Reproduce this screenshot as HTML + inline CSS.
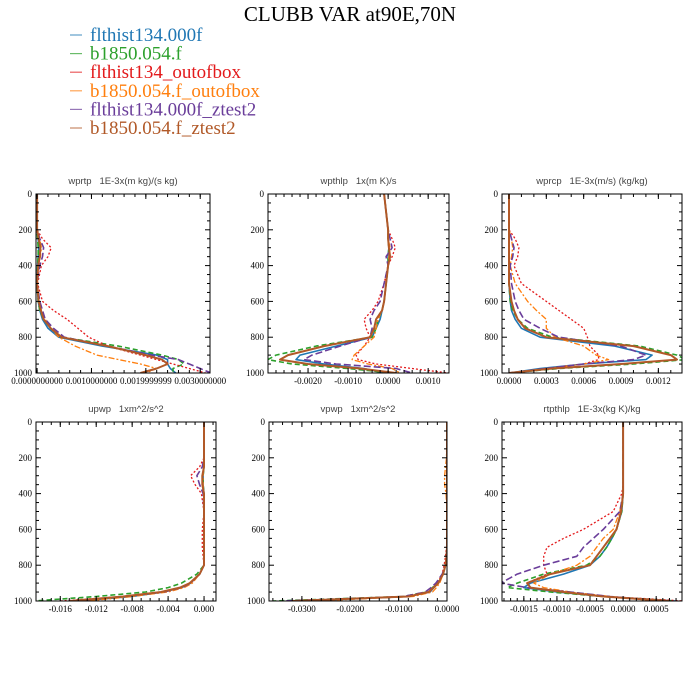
<!DOCTYPE html>
<html><head><meta charset="utf-8"><style>
body{margin:0;background:#fff;width:700px;height:700px;overflow:hidden}
svg{display:block}
.tl{font-family:"Liberation Serif",serif;font-size:9px;fill:#000}
.pt{font-family:"Liberation Sans",sans-serif;font-size:9.5px;fill:#444;white-space:pre}
.lg{font-family:"Liberation Serif",serif;font-size:19px}
</style></head><body>
<svg id="c" width="700" height="700">
<text x="350" y="21" text-anchor="middle" font-family="Liberation Serif,serif" font-size="21">CLUBB VAR at90E,70N</text>
</svg>
<script>
const levels=[0,200,250,300,350,400,500,600,650,700,750,800,850,900,925,950,975,1000];
const seriesNames=["flthist134.000f","b1850.054.f","flthist134_outofbox","b1850.054.f_outofbox","flthist134.000f_ztest2","b1850.054.f_ztest2"];
const seriesColors=["#1f77b4","#2ca02c","#e31a1c","#ff7f0e","#6a3d9a","#b15928"];
const seriesDash=["","5,3","2,2","6,2,2,2","7,3",""];
const seriesWidth=[1.6,1.6,1.3,1.3,1.6,2.0];
// values in units of 1e-3
const wprtp=[
[0,0,0.02,0.03,0.02,0.01,0,0.02,0.05,0.1,0.2,0.4,1.2,2.2,2.4,2.4,2.45,2.55],
[0,0,0.01,0.02,0.02,0.01,0,0.02,0.05,0.12,0.25,0.45,1.5,2.3,2.6,2.7,2.5,2.5],
[0,0,0.1,0.26,0.2,0.08,0.01,0.1,0.3,0.55,0.75,0.95,1.3,1.9,2.2,2.5,2.8,3.1],
[0,0,0.05,0.08,0.06,0.02,0,0.04,0.08,0.15,0.25,0.4,0.7,1.1,1.5,1.9,2.2,2.0],
[0,0,0.05,0.12,0.1,0.05,0,0.05,0.1,0.15,0.3,0.5,1.3,2.1,2.6,2.8,3.0,3.2],
[0,0,0.03,0.06,0.05,0.02,0,0.03,0.07,0.12,0.25,0.45,1.3,2.0,2.3,2.4,2.2,1.9]];
const wpthlp=[
[-0.1,0,0,0.02,0,0,-0.05,-0.1,-0.15,-0.2,-0.3,-0.4,-1.3,-2.2,-2.3,-1.6,-0.6,-0.1],
[-0.1,0,0,0.02,0,0,-0.05,-0.1,-0.15,-0.25,-0.3,-0.4,-1.8,-2.8,-3.0,-2.4,-1.0,0.1],
[-0.1,0,0.1,0.18,0.1,0,-0.1,-0.25,-0.4,-0.6,-0.55,-0.45,-0.6,-0.8,-0.75,-0.3,0.6,1.5],
[-0.1,0,0,0.05,0.02,0,-0.05,-0.1,-0.15,-0.25,-0.3,-0.35,-0.6,-0.85,-0.9,-0.5,0.1,0.3],
[-0.1,0,0.05,0.1,-0.05,0,-0.1,-0.2,-0.35,-0.45,-0.4,-0.45,-1.2,-1.9,-2.1,-1.3,0.2,0.6],
[-0.1,0,0,0.02,0.05,0,-0.05,-0.1,-0.15,-0.3,-0.35,-0.45,-1.6,-2.5,-2.7,-2.0,-0.7,0.2]];
const wprcp=[
[0,0,0,0,0,0,0,0.01,0.02,0.05,0.1,0.25,0.85,1.15,1.1,0.6,0.25,0],
[0,0,0,0,0,0,0,0.01,0.03,0.07,0.15,0.35,1.05,1.35,1.42,1.0,0.4,0],
[0,0,0.05,0.08,0.07,0.04,0.1,0.3,0.4,0.5,0.6,0.63,0.65,0.72,0.72,0.6,0.3,0],
[0,0,0.02,0.03,0.02,0.01,0.05,0.15,0.22,0.3,0.3,0.37,0.6,0.7,0.8,0.6,0.3,0],
[0,0,0.02,0.04,0.03,0.01,0.02,0.05,0.08,0.12,0.25,0.4,0.9,1.1,1.0,0.6,0.3,0],
[0,0,0,0,0,0,0,0.02,0.04,0.07,0.13,0.3,1.0,1.3,1.35,0.9,0.35,0]];
const upwp=[
[0,0,0,-0.1,-0.1,0,0,0,0,0,0,0,-0.5,-1.5,-2.5,-4.5,-8,-14],
[0,0,0,-0.1,-0.1,0,0,0,0,0,0,0,-0.8,-2.5,-4,-6.5,-12,-19],
[0,0,-0.5,-1.5,-1.0,-0.3,0,-0.2,-0.2,-0.2,-0.1,0,-0.5,-1.5,-2.5,-4.5,-9,-16],
[0,0,0,-0.1,-0.1,0,0,0,0,0,0,0,-0.5,-1.3,-2.2,-4,-8,-13],
[0,0,-0.2,-0.8,-0.5,-0.1,0,0,0,0,0,0,-0.5,-1.5,-2.5,-4.5,-9,-15],
[0,0,0,-0.2,-0.2,0,0,0,0,0,0,0,-0.5,-1.6,-2.7,-4.8,-9,-15]];
const vpwp=[
[0,0,0,0,0,0,0,0,0,0,-0.1,-0.3,-0.8,-1.8,-2.7,-3.5,-8,-30],
[0,0,0,0,0,0,0,0,0,0,-0.1,-0.3,-0.8,-2.0,-3.0,-4.2,-9,-36],
[0,0,0,0,0,0,0,0,0,-0.1,-0.3,-0.6,-1.0,-2.0,-2.8,-3.6,-8,-32],
[0,-0.1,-0.3,-0.5,-0.5,-0.2,0,0,0,0,-0.1,-0.3,-0.8,-1.5,-2.2,-3.0,-7,-28],
[0,0,0,0,0,0,0,0,0,0,-0.1,-0.3,-1.0,-2.3,-3.3,-4.5,-9,-34],
[0,0,0,0,0,0,0,0,0,0,-0.1,-0.3,-0.8,-1.8,-2.8,-3.8,-8,-32]];
const rtpthlp=[
[0,0,0,0,0,0,-0.02,-0.1,-0.17,-0.25,-0.35,-0.5,-0.9,-1.4,-1.5,-1.0,-0.3,0.8],
[0,0,0,0,0,0,-0.02,-0.1,-0.17,-0.25,-0.35,-0.55,-1.2,-1.6,-1.75,-1.1,-0.3,0.8],
[0,0,0,0,0,-0.02,-0.15,-0.6,-0.9,-1.15,-1.2,-1.2,-1.15,-1.45,-1.4,-0.9,-0.2,0.9],
[0,0,0,0,0,0,-0.05,-0.15,-0.3,-0.4,-0.5,-0.7,-1.1,-1.35,-1.2,-0.8,-0.2,0.5],
[0,0,0,0,0,0,-0.05,-0.3,-0.45,-0.6,-0.7,-1.2,-1.6,-1.85,-1.45,-0.8,-0.2,0.6],
[0,0,0,0,0,0,-0.03,-0.1,-0.2,-0.3,-0.4,-0.5,-1.1,-1.45,-1.4,-0.9,-0.3,0.7]];
const xTicks1=[0,1,2,3], xLabels1=["0.0000000000","0.0010000000","0.0019999999","0.0030000000"];
const xTicks2=[-2,-1,0,1], xLabels2=["-0.0020","-0.0010","0.0000","0.0010"];
const xTicks3=[0,0.3,0.6,0.9,1.2], xLabels3=["0.0000","0.0003","0.0006","0.0009","0.0012"];
const xTicks4=[-16,-12,-8,-4,0], xLabels4=["-0.016","-0.012","-0.008","-0.004","0.000"];
const xTicks5=[-30,-20,-10,0], xLabels5=["-0.0300","-0.0200","-0.0100","0.0000"];
const xTicks6=[-1.5,-1,-0.5,0,0.5], xLabels6=["-0.0015","-0.0010","-0.0005","0.0000","0.0005"];
const yTicks=[0,200,400,600,800,1000];

const NS="http://www.w3.org/2000/svg";
const svg=document.getElementById('c');
function mk(tag,attrs,parent){const e=document.createElementNS(NS,tag);for(const k in attrs)e.setAttribute(k,attrs[k]);(parent||svg).appendChild(e);return e;}

const panels=[
{name:"wprtp",title:"wprtp   1E-3x(m kg)/(s kg)",data:wprtp,x0:36,x1:210,y0:194,y1:373,xmin:-0.02,xmax:3.18,ticks:xTicks1,labels:xLabels1,minor:0.2},
{name:"wpthlp",title:"wpthlp   1x(m K)/s",data:wpthlp,x0:268,x1:449,y0:194,y1:373,xmin:-3.0,xmax:1.52,ticks:xTicks2,labels:xLabels2,minor:0.2},
{name:"wprcp",title:"wprcp   1E-3x(m/s) (kg/kg)",data:wprcp,x0:502,x1:682,y0:194,y1:373,xmin:-0.056,xmax:1.39,ticks:xTicks3,labels:xLabels3,minor:0.1},
{name:"upwp",title:"upwp   1xm^2/s^2",data:upwp,x0:36,x1:216,y0:422,y1:601,xmin:-18.7,xmax:1.33,ticks:xTicks4,labels:xLabels4,minor:1},
{name:"vpwp",title:"vpwp   1xm^2/s^2",data:vpwp,x0:269,x1:447,y0:422,y1:601,xmin:-36.8,xmax:0,ticks:xTicks5,labels:xLabels5,minor:2},
{name:"rtpthlp",title:"rtpthlp   1E-3x(kg K)/kg",data:rtpthlp,x0:502,x1:682,y0:422,y1:601,xmin:-1.83,xmax:0.89,ticks:xTicks6,labels:xLabels6,minor:0.1}];

panels.forEach(p=>{
  const g=mk('g',{});
  
  
  const sx=v=>p.x0+(v-p.xmin)/(p.xmax-p.xmin)*(p.x1-p.x0);
  const sy=v=>p.y0+v/1000*(p.y1-p.y0);
  const t=mk('text',{x:(p.x0+p.x1)/2,y:p.y0-10,'text-anchor':'middle',class:'pt'},g);
  t.textContent=p.title;
  
  
  const cp=mk('clipPath',{id:'cp'+p.name},g);
  mk('rect',{x:p.x0,y:p.y0,width:p.x1-p.x0,height:p.y1-p.y0},cp);
  const lg=mk('g',{'clip-path':'url(#cp'+p.name+')'},g);
  p.data.forEach((vals,i)=>{
    const d=vals.map((v,j)=>(j?'L':'M')+sx(v).toFixed(1)+','+sy(levels[j]).toFixed(1)).join(' ');
    const path=mk('path',{d:d,fill:'none',stroke:seriesColors[i],'stroke-width':seriesWidth[i],'stroke-dasharray':seriesDash[i],'stroke-linejoin':'round'},lg);
    
    
  });
  const fr=mk('rect',{x:p.x0,y:p.y0,width:p.x1-p.x0,height:p.y1-p.y0,fill:'none',stroke:'#000','stroke-width':1},g);
  
  
  for(let v=0;v<=1000;v+=50){
    const y=sy(v),len=(v%200===0)?5:3;
    mk('line',{x1:p.x0,x2:p.x0+len,y1:y,y2:y,stroke:'#000'},g);
    mk('line',{x1:p.x1,x2:p.x1-len,y1:y,y2:y,stroke:'#000'},g);
  }
  yTicks.forEach(v=>{
    const yl=mk('text',{x:p.x0-4,y:sy(v)+3,'text-anchor':'end',class:'tl'},g);
    yl.textContent=v;
    
    
  });
  const start=Math.ceil(p.xmin/p.minor);
  for(let k=start;k*p.minor<=p.xmax+1e-9;k++){
    const x=sx(k*p.minor);
    mk('line',{x1:x,x2:x,y1:p.y1,y2:p.y1-3,stroke:'#000'},g);
    mk('line',{x1:x,x2:x,y1:p.y0,y2:p.y0+3,stroke:'#000'},g);
  }
  p.ticks.forEach((v,i)=>{
    const x=sx(v);
    mk('line',{x1:x,x2:x,y1:p.y1,y2:p.y1-5,stroke:'#000'},g);
    mk('line',{x1:x,x2:x,y1:p.y0,y2:p.y0+5,stroke:'#000'},g);
    const xl=mk('text',{x:x,y:p.y1+11,'text-anchor':'middle',class:'tl'},g);
    xl.textContent=p.labels[i];
    
    
  });
});

const leg=mk('g',{});


seriesNames.forEach((n,i)=>{
  const y=35+i*18.6;
  const e=mk('g',{},leg);
  
  
  mk('line',{x1:70,x2:82,y1:y,y2:y,stroke:seriesColors[i],'stroke-width':1.2,opacity:0.7},e);
  const t=mk('text',{x:90,y:y+6,class:'lg',fill:seriesColors[i]},e);
  t.textContent=n;
});
</script>
</body></html>
